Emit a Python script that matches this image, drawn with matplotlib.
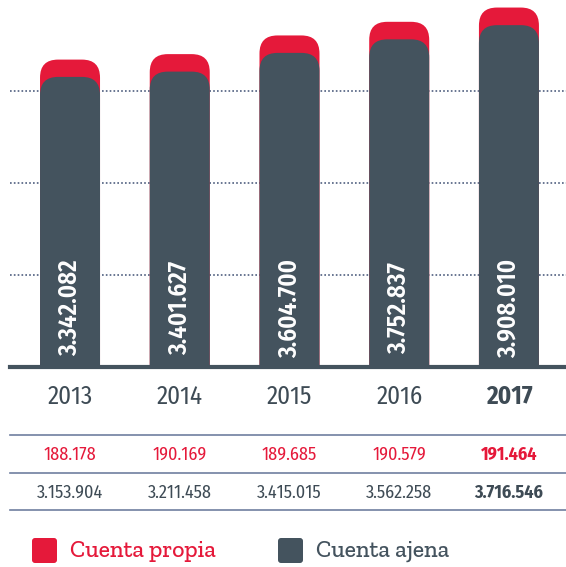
import matplotlib
matplotlib.use("Agg")
import matplotlib.pyplot as plt
from matplotlib.patches import FancyBboxPatch
from matplotlib.lines import Line2D
from matplotlib import transforms

# Data
years = ["2013", "2014", "2015", "2016", "2017"]
propia = [188178, 190169, 189685, 190579, 191464]
ajena = [3153904, 3211458, 3415015, 3562258, 3716546]
totales = [3342082, 3401627, 3604700, 3752837, 3908010]


def fmt(v):
    return f"{v:,}".replace(",", ".")


RED = "#e5193a"
DARK = "#44535e"
TXT = "#3e4b55"
LINE = "#6f7fa0"
narrow = ["Fira Sans Condensed", "Roboto Condensed", "DejaVu Sans"]
slab = ["Zilla Slab", "DejaVu Serif"]

W, H = 566, 567
fig = plt.figure(figsize=(W / 100, H / 100), dpi=100)
ax = fig.add_axes([10 / W, 1 - 367 / H, 556 / W, 367 / H])
xmin, xmax = -0.547, 4.52
ymax = 3.99e6
ax.set_xlim(xmin, xmax)
ax.set_ylim(0, ymax)
ax.axis("off")

# pixel scales, to get round corners that look round
xpx = 556 / (xmax - xmin)
ypx = 367 / ymax
aspect = xpx / ypx
radius = 18 / xpx
width = 60 / xpx

# dotted grid
for g in [1e6, 2e6, 3e6]:
    ax.axhline(g, color="#4f5f7f", lw=1.2, ls=(0, (1, 1.3)), zorder=0)

# bars: red total behind, dark "ajena" in front
for i in range(len(years)):
    for val, col, z in [(totales[i], RED, 2), (ajena[i], DARK, 3)]:
        bottom = -0.5e6
        p = FancyBboxPatch((i - width / 2, bottom), width, val - bottom,
                           boxstyle=f"round,pad=0,rounding_size={radius}",
                           mutation_aspect=aspect, fc=col, ec="none", zorder=z)
        ax.add_patch(p)
    ax.text(i, 0.64e6, fmt(totales[i]), rotation=90, ha="center", va="center",
            color="white", fontsize=18, fontweight=600, family=narrow, zorder=5)

ax.axhline(0, color=DARK, lw=3, clip_on=False, zorder=6)

# table under the chart
tr = transforms.blended_transform_factory(ax.transData, fig.transFigure)
for i, y in enumerate(years):
    last = i == len(years) - 1
    wt = "bold" if last else 400
    ax.text(i, 1 - 397 / H, y, transform=tr, ha="center", va="center",
            fontsize=18, color=TXT, family=narrow, fontweight=wt)
    ax.text(i, 1 - 455 / H, fmt(propia[i]), transform=tr, ha="center", va="center",
            fontsize=13, color=RED, family=narrow, fontweight=wt)
    ax.text(i, 1 - 493 / H, fmt(ajena[i]), transform=tr, ha="center", va="center",
            fontsize=13, color=TXT, family=narrow, fontweight=wt)

for ypos in [435, 473, 510]:
    fig.add_artist(Line2D([10 / W, 1], [1 - ypos / H] * 2, color=LINE, lw=1.2))

# legend
for x0, col, label, tx in [(32, RED, "Cuenta propia", 70), (278, DARK, "Cuenta ajena", 316)]:
    fig.add_artist(FancyBboxPatch((x0 / W, 1 - 563 / H), 25 / W, 25 / H,
                                  boxstyle=f"round,pad=0,rounding_size={3 / W}",
                                  fc=col, ec="none", transform=fig.transFigure))
    fig.text(tx / W, 1 - 551 / H, label, ha="left", va="center", fontsize=17,
             color=col, family=slab, fontweight=500)

fig.savefig("out.png", dpi=100)
